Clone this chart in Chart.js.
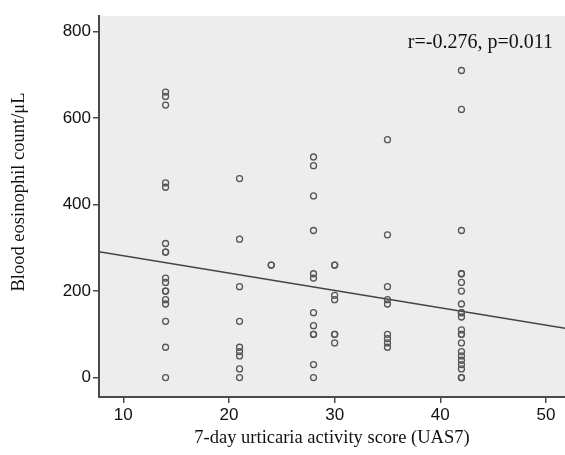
<!DOCTYPE html>
<html>
<head>
<meta charset="utf-8">
<script src="https://cdn.jsdelivr.net/npm/chart.js@4/dist/chart.umd.min.js"></script>
<style>
  html, body { margin: 0; padding: 0; background: #fff; }
  #wrap { width: 565px; height: 455px; }
</style>
</head>
<body>
<div id="wrap"><canvas id="chart" width="565" height="455"></canvas></div>
<script>
// UAS7 score groups and eosinophil counts
const scores = [14, 21, 24, 28, 30, 35, 42];
const eos14 = [660, 650, 630, 450, 440, 310, 290, 290, 230, 220, 200, 200, 180, 170, 130, 70, 0];
const eos21 = [460, 320, 210, 130, 70, 60, 50, 20, 0];
const eos24 = [260, 260];
const eos28 = [510, 490, 420, 340, 240, 230, 150, 120, 100, 100, 30, 0];
const eos30 = [260, 260, 190, 180, 100, 100, 80];
const eos35 = [550, 330, 210, 180, 170, 100, 90, 80, 70];
const eos42 = [710, 620, 340, 240, 240, 220, 200, 170, 150, 150, 140, 110, 100, 100, 80, 60, 50, 40, 30, 20, 0, 0];
const groups = [eos14, eos21, eos24, eos28, eos30, eos35, eos42];

// fit line end points
const fitX = [7.7, 51.8];
const fitY = [291, 114];

const xTicks = [10, 20, 30, 40, 50];
const yTicks = [0, 200, 400, 600, 800];

const statText = 'r=-0.276, p=0.011';
const yTitle = 'Blood eosinophil count/μL';

const points = [];
groups.forEach((vals, i) => {
  vals.forEach(v => points.push({ x: scores[i], y: v }));
});

const axisColor = '#4a4a4a';

const bgPlugin = {
  id: 'plotBg',
  beforeDraw(chart) {
    const { ctx, chartArea } = chart;
    ctx.save();
    ctx.fillStyle = '#ededed';
    ctx.fillRect(chartArea.left, chartArea.top, chartArea.right - chartArea.left, chartArea.bottom - chartArea.top);
    ctx.restore();
  },
  afterDraw(chart) {
    const { ctx, chartArea } = chart;
    ctx.save();
    ctx.fillStyle = '#111';
    ctx.font = '20px "Liberation Serif", serif';
    ctx.textAlign = 'right';
    ctx.textBaseline = 'middle';
    ctx.fillText(statText, chartArea.right - 12, 43);

    // y axis title, sits a bit above the middle of the plot like the original
    ctx.font = '18.5px "Liberation Serif", serif';
    ctx.textAlign = 'center';
    ctx.translate(19, 192);
    ctx.rotate(-Math.PI / 2);
    ctx.fillText(yTitle, 0, 0);
    ctx.restore();
  }
};

new Chart(document.getElementById('chart'), {
  type: 'scatter',
  data: {
    datasets: [
      {
        label: 'eosinophil',
        data: points,
        pointStyle: 'circle',
        pointRadius: 3,
        pointBorderWidth: 1.3,
        pointBorderColor: '#555',
        pointBackgroundColor: 'rgba(0,0,0,0)'
      },
      {
        label: 'fit',
        type: 'line',
        data: fitX.map((x, i) => ({ x, y: fitY[i] })),
        borderColor: '#444',
        borderWidth: 1.5,
        pointRadius: 0,
        fill: false
      }
    ]
  },
  plugins: [bgPlugin],
  options: {
    responsive: false,
    animation: false,
    layout: { autoPadding: false, padding: { top: 16, right: 0, left: 0, bottom: 0 } },
    plugins: {
      legend: { display: false },
      tooltip: { enabled: false }
    },
    scales: {
      x: {
        type: 'linear',
        min: 7.7,
        max: 51.8,
        afterBuildTicks: s => { s.ticks = xTicks.map(v => ({ value: v })); },
        afterFit: s => { s.height = 58; },
        grid: { drawOnChartArea: false, drawTicks: true, tickLength: 6, color: axisColor, lineWidth: 1.5 },
        border: { display: true, color: axisColor, width: 2 },
        ticks: { color: '#111', font: { family: '"Liberation Sans", sans-serif', size: 17 }, padding: 2, maxRotation: 0 },
        title: {
          display: true,
          text: '7-day urticaria activity score (UAS7)',
          color: '#111',
          font: { family: '"Liberation Serif", serif', size: 18.5 },
          padding: { top: 4, bottom: 6 }
        }
      },
      y: {
        type: 'linear',
        min: -45,
        max: 836,
        afterBuildTicks: s => { s.ticks = yTicks.map(v => ({ value: v })); },
        afterFit: s => { s.width = 99; },
        grid: { drawOnChartArea: false, drawTicks: true, tickLength: 6, color: axisColor, lineWidth: 1.5 },
        border: { display: true, color: axisColor, width: 2 },
        ticks: { color: '#111', font: { family: '"Liberation Sans", sans-serif', size: 17 }, padding: 2 }
      }
    }
  }
});
</script>
</body>
</html>
